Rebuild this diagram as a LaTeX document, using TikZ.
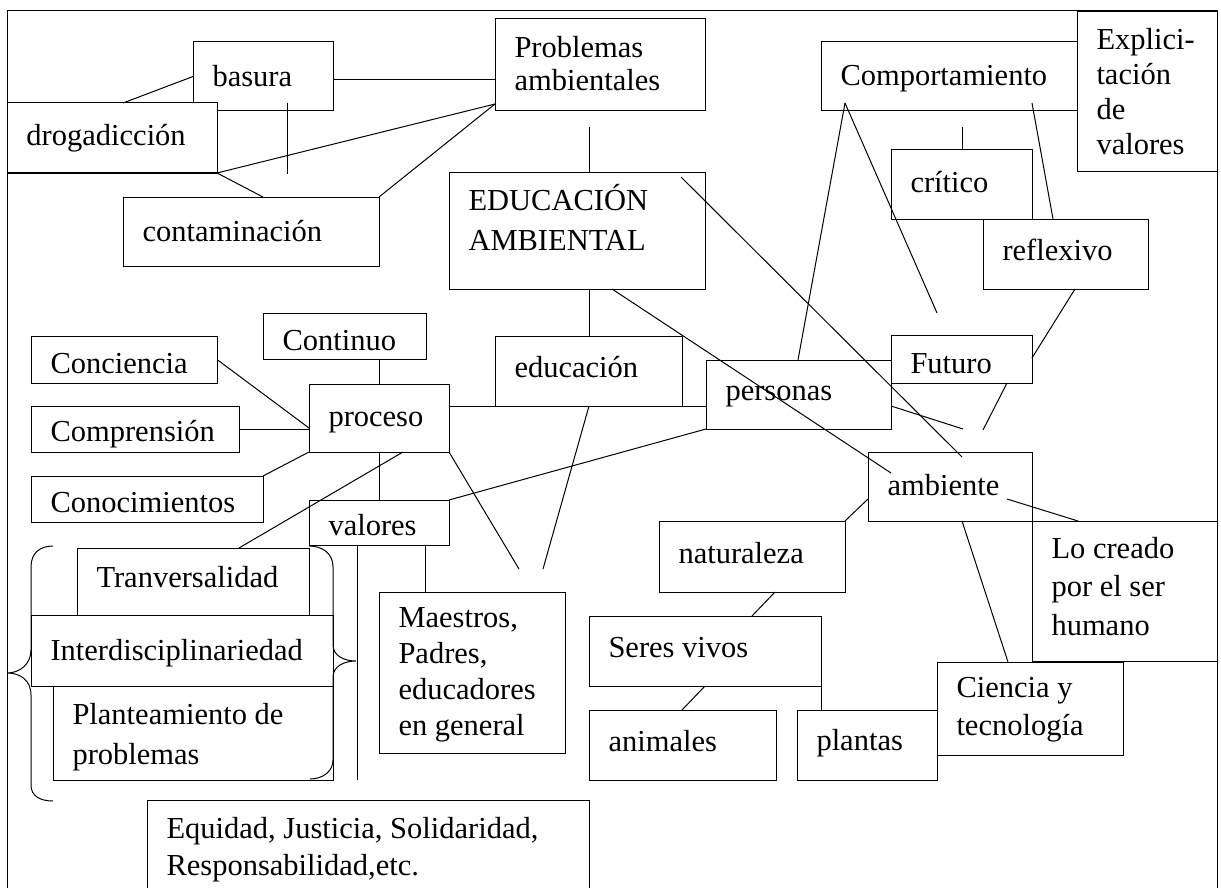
\documentclass[tikz,border=0pt]{standalone}
\usepackage{fontspec}
\setmainfont{Liberation Serif}
\tikzset{
  box/.style={draw, line width=1pt, anchor=north west, inner sep=0pt, outer sep=0pt},
  whitebox/.style={box, fill=white},
  ln/.style={line width=1pt}
}
% \bx[style]{name}{x1}{y1}{x2}{y2}{first baseline}{line skip}{text}
\newcommand{\bx}[9][box]{%
  \node[#1] (#2) at (#3,#4) {\hspace*{19.5pt}\parbox[c][\dimexpr #6pt-#4pt\relax][t]{\dimexpr #5pt-#3pt-19.5pt\relax}{\raggedright\fontsize{30.5}{#8}\selectfont\rule{0pt}{#7pt}#9}};}
\begin{document}
\begin{tikzpicture}[x=1pt, y=-1pt, line width=1pt]
\useasboundingbox (0,0) rectangle (1221,888);
% outer frame
\draw (7,888) -- (7,11) -- (1217,11) -- (1217,888);

% boxes
\bx{basura}{193}{42}{333}{111}{45}{36}{basura}
\bx[whitebox]{drog}{7}{103}{217}{173}{43}{36}{drogadicción}
\bx{conta}{123}{197}{379}{266}{44}{36}{contaminación}
\bx{prob}{495}{19}{705}{111}{39}{33}{Problemas\\ambientales}
\bx{edu}{449}{173}{705}{289}{37}{40}{EDUCACIÓN\\AMBIENTAL}
\bx{comp}{821}{42}{1077}{111}{44}{36}{Comportamiento}
\bx{expl}{1077}{12}{1217}{172}{38}{35}{Explici-\\tación\\de\\valores}
\bx{critico}{891}{150}{1032}{219}{42}{36}{crítico}
\bx{reflex}{983}{219}{1148}{289}{41}{36}{reflexivo}
\bx{continuo}{263}{313}{426}{359}{37}{36}{Continuo}
\bx{conciencia}{31}{336}{217}{383}{37}{36}{Conciencia}
\bx{comprension}{31}{406}{239}{452}{35}{36}{Comprensión}
\bx{conoc}{31}{476}{263}{522}{36}{36}{Conocimientos}
\bx{proceso}{309}{384}{449}{452}{42}{36}{proceso}
\bx{valores}{309}{500}{449}{545}{35}{36}{valores}
\bx{tranv}{77}{548}{309}{615}{39}{36}{Tranversalidad}
\bx{inter}{31}{615}{333}{686}{45}{36}{Interdisciplinariedad}
\bx{plante}{53}{686}{333}{780}{38}{40}{Planteamiento de\\problemas}
\bx{educacion}{495}{336}{682}{406}{41}{36}{educación}
\bx{personas}{706}{360}{891}{429}{40}{36}{personas}
\bx{futuro}{891}{335}{1032}{383}{38}{36}{Futuro}
\bx{ambiente}{868}{452}{1032}{521}{43}{36}{ambiente}
\bx{locreado}{1032}{521}{1217}{661}{37}{38.5}{Lo creado\\por el ser\\humano}
\bx{natur}{659}{521}{845}{592}{42}{36}{naturaleza}
\bx{seres}{589}{616}{821}{686}{41}{36}{Seres vivos}
\bx{animales}{589}{710}{776}{780}{41}{36}{animales}
\bx{plantas}{797}{710}{937}{780}{40}{36}{plantas}
\bx{ciencia}{937}{662}{1123}{755}{35}{38}{Ciencia y\\tecnología}
\bx{maestros}{379}{592}{565}{753}{35}{36}{Maestros,\\Padres,\\educadores\\en general}
\bx{equidad}{147}{800}{589}{893}{38}{37}{Equidad, Justicia, Solidaridad,\\Responsabilidad,etc.}

% free ends
\coordinate (f1) at (287,174);
\coordinate (f2) at (589,127);
\coordinate (f3) at (937,313);
\coordinate (f4) at (962,127);
\coordinate (f5) at (983,430);
\coordinate (f6) at (963,429);
\coordinate (f7) at (357,780);
\coordinate (f8) at (543,569);
\coordinate (f9) at (519,569);

% connectors
\draw[ln] (basura.west) -- ([xshift=116pt]drog.north west);
\draw[ln] ([yshift=-3pt]basura.east) -- ([yshift=-3pt]basura.east -| prob.west);
\draw[ln] ([xshift=94pt,yshift=8pt]basura.south west) -- (f1);
\draw[ln] (drog.south east) -- ([yshift=7pt]prob.south west);
\draw[ln] (drog.south east) -- ([xshift=140pt]conta.north west);
\draw[ln] (conta.north east) -- ([yshift=7pt]prob.south west);
\draw[ln] (f2) -- ([xshift=140pt]edu.north west);
\draw[ln] ([xshift=-24pt,yshift=-4pt]edu.north east) -- ([xshift=94pt,yshift=-5pt]ambiente.north west);
\draw[ln] ([xshift=140pt]edu.south west) -- ([xshift=94pt]educacion.north west);
\draw[ln] ([xshift=163pt]edu.south west) -- ([xshift=23pt,yshift=-21pt]ambiente.north west);
\draw[ln] ([xshift=24pt,yshift=8pt]comp.south west) -- ([xshift=92pt]personas.north west);
\draw[ln] ([xshift=24pt,yshift=8pt]comp.south west) -- (f3);
\draw[ln] ([xshift=211pt,yshift=8pt]comp.south west) -- ([xshift=70pt]reflex.north west);
\draw[ln] (f4) -- ([xshift=71pt]critico.north west);
\draw[ln] ([xshift=92pt]reflex.south west) -- ([yshift=-23pt]futuro.north east);
\draw[ln] ([xshift=116pt]futuro.south west) -- (f5);
\draw[ln] ([yshift=-46pt]personas.north east) -- (f6);
\draw[ln] ([xshift=116pt]continuo.south west) -- (proceso.north);
\draw[ln] (conciencia.east) -- ([yshift=-44pt]proceso.north west);
\draw[ln] (comprension.east) -- (comprension.east -| proceso.west);
\draw[ln] (conoc.north east) -- (proceso.south west);
\draw[ln] (proceso.south) -- (valores.north);
\draw[ln] ([xshift=94pt]proceso.south west) -- ([xshift=162pt]tranv.north west);
\draw[ln] ([xshift=48pt]valores.south west) -- (f7);
\draw[ln] ([xshift=116pt]valores.south west) -- ([xshift=46pt]maestros.north west);
\draw[ln] ([yshift=-22pt]proceso.north east) -- ([yshift=-22pt]proceso.north east -| personas.west);
\draw[ln] ([xshift=94pt]educacion.south west) -- (f8);
\draw[ln] (proceso.south east) -- (f9);
\draw[ln] (personas.south west) -- (valores.north east);
\draw[ln] ([yshift=-47pt]ambiente.north west) -- (natur.north east);
\draw[ln] ([xshift=139pt,yshift=-47pt]ambiente.north west) -- ([xshift=46pt]locreado.north west);
\draw[ln] ([xshift=94pt]ambiente.south west) -- ([xshift=71pt]ciencia.north west);
\draw[ln] ([xshift=116pt]natur.south west) -- ([xshift=163pt]seres.north west);
\draw[ln] ([xshift=116pt]seres.south west) -- ([xshift=93pt]animales.north west);
\draw[ln] (seres.south east) -- (seres.south east |- plantas.north);

% braces
\draw[ln] (53,546) .. controls (40,546) and (31,553) .. (31,567) -- (31,650)
  .. controls (31,664) and (20,673) .. (7,673)
  .. controls (20,673) and (31,680) .. (31,695) -- (31,785)
  .. controls (31,796) and (40,801) .. (53,801);
\draw[ln] (309,546) .. controls (322,546) and (333,553) .. (333,567) -- (333,645)
  .. controls (333,655) and (343,661) .. (356,661)
  .. controls (343,661) and (333,667) .. (333,677) -- (333,760)
  .. controls (333,772) and (322,779) .. (310,779);
\end{tikzpicture}
\end{document}
